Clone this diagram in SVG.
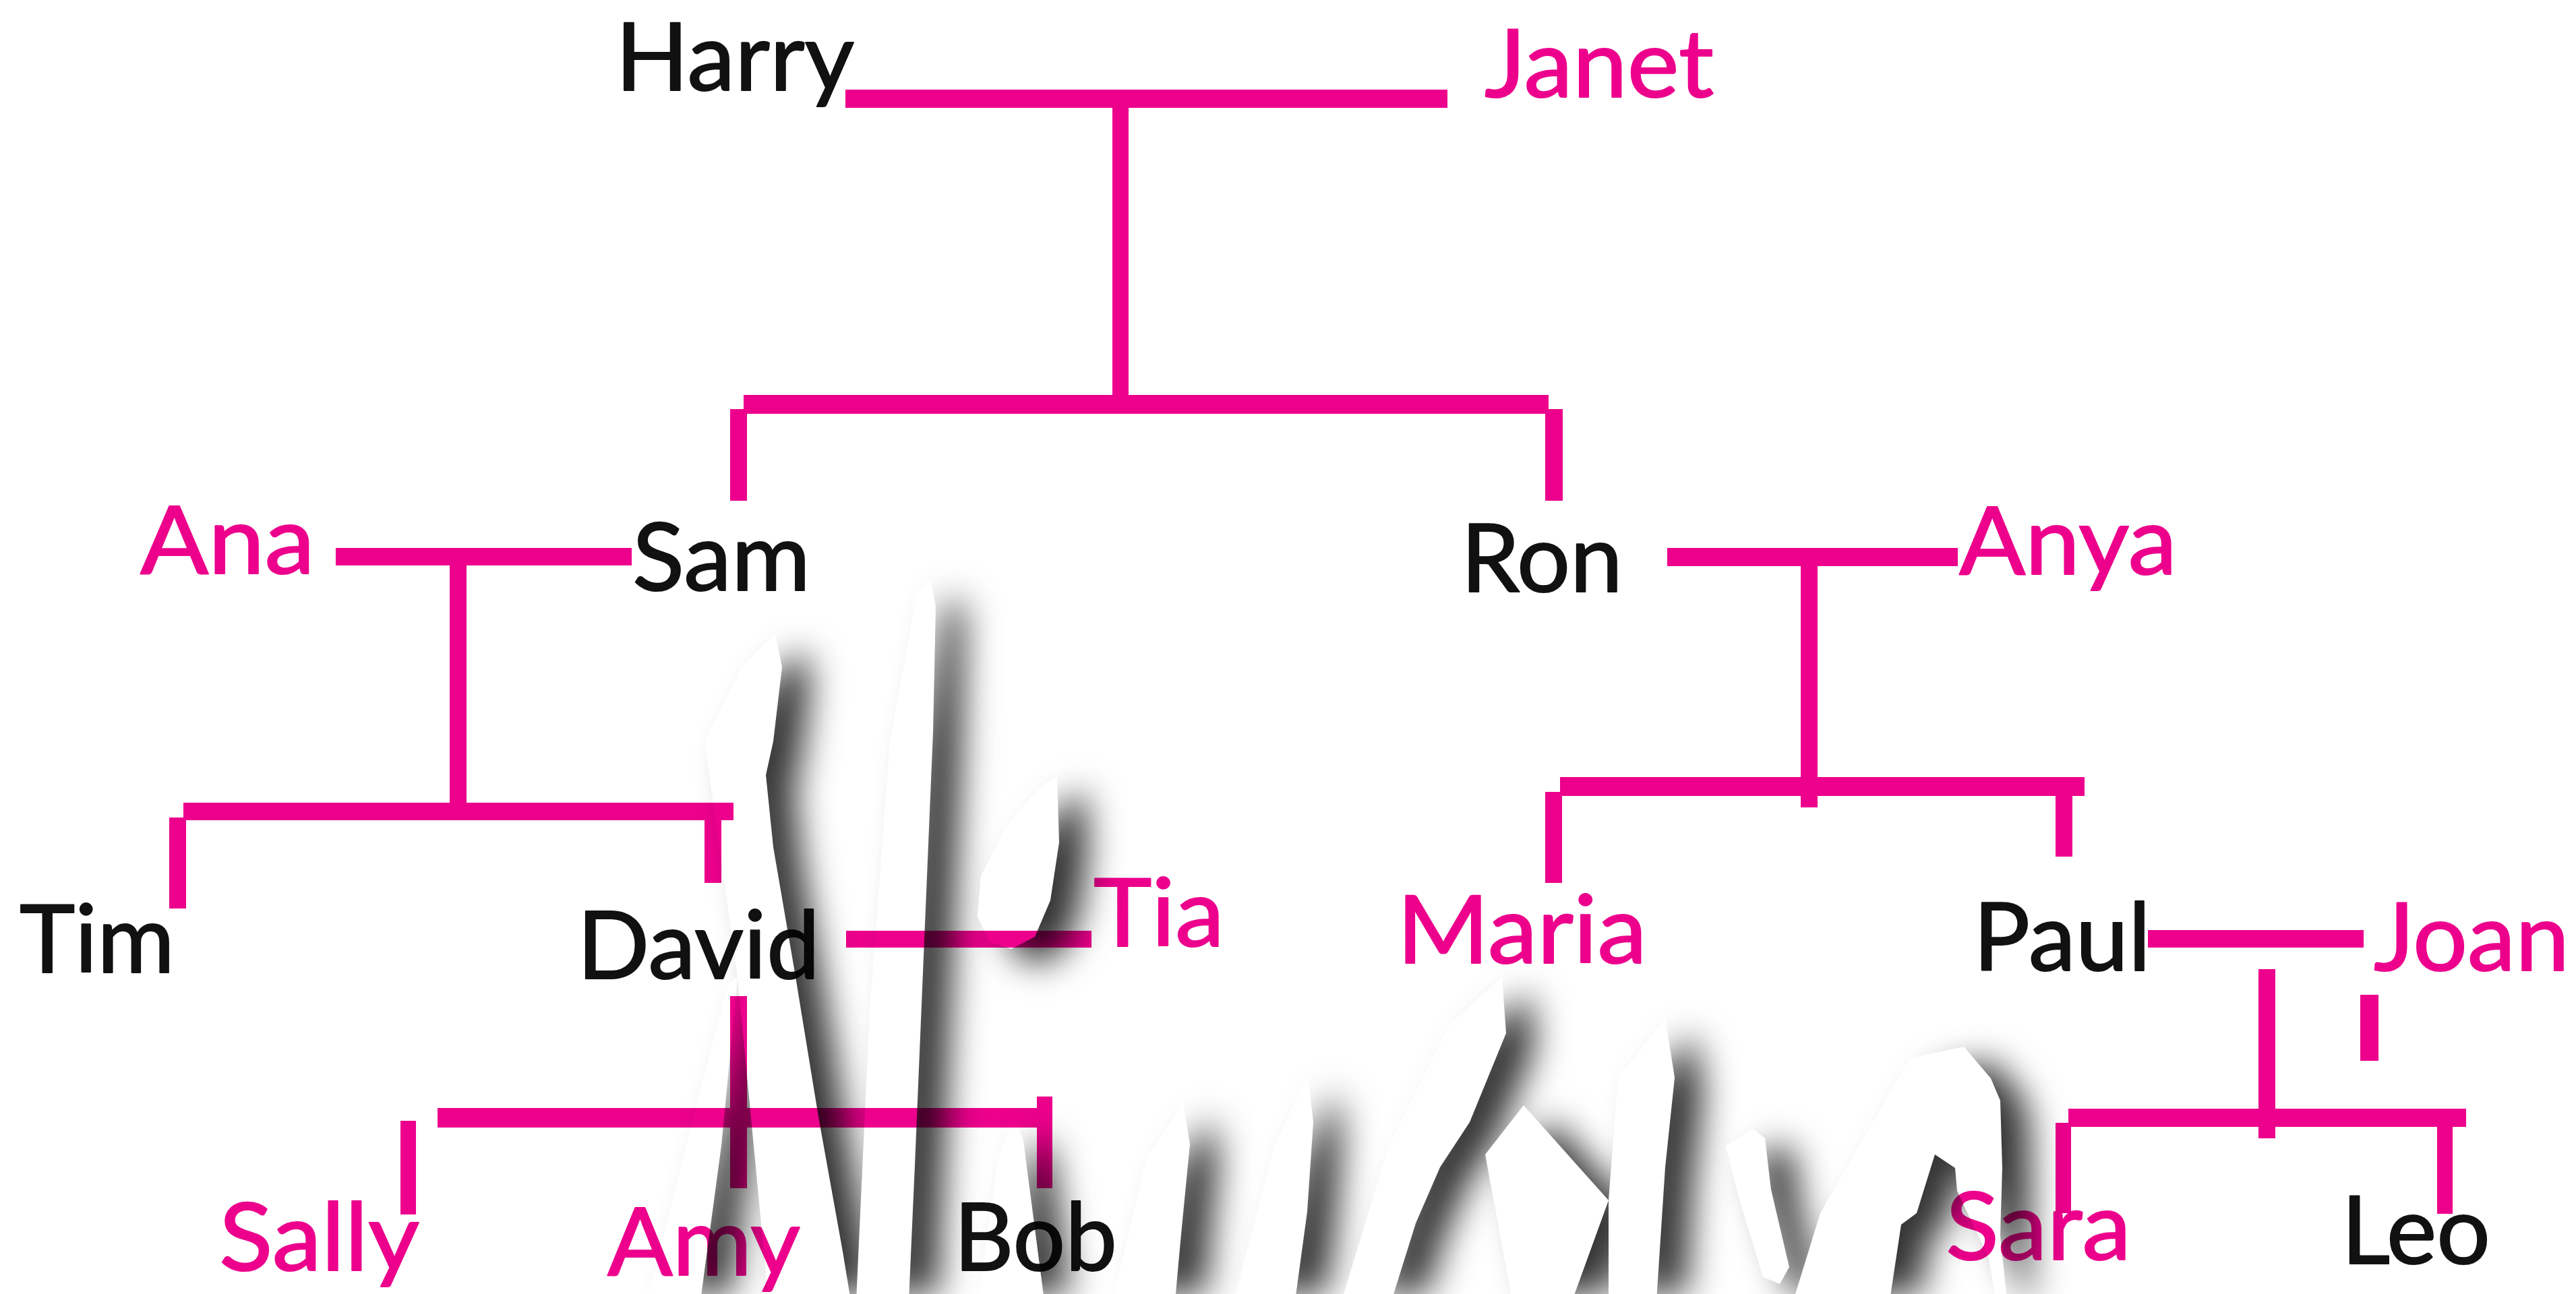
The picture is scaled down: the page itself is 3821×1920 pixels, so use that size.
<svg xmlns="http://www.w3.org/2000/svg" width="3821" height="1920" viewBox="0 0 3821 1920">
<defs>
<style>
.ln{fill:#EC008C}
.t{font-family:Lato,"Open Sans","Liberation Sans",sans-serif;font-size:140px;font-weight:400;stroke-width:2;stroke-linejoin:round}
.m{fill:#111111;stroke:#111111}
.f{fill:#EC008C;stroke:#EC008C}
.wm{fill:#ffffff;stroke:none}
</style>
<filter id="shadow" filterUnits="userSpaceOnUse" x="0" y="0" width="3821" height="1920">
<feOffset in="SourceAlpha" dx="42" dy="22" result="off"/>
<feGaussianBlur in="off" stdDeviation="26" result="blur"/>
<feComposite in="blur" in2="SourceAlpha" operator="out" result="sh"/>
<feColorMatrix in="sh" type="matrix" values="0 0 0 0 0  0 0 0 0 0  0 0 0 0 0  0 0 0 0.8 0"/>
</filter>
</defs>
<rect width="3821" height="1920" fill="#ffffff"/>
<g id="connectors">
<rect class="ln" x="1254" y="133" width="893" height="27"/>
<rect class="ln" x="1650" y="158" width="24" height="430"/>
<rect class="ln" x="1103" y="586" width="1194" height="28"/>
<rect class="ln" x="1083" y="607" width="25" height="136"/>
<rect class="ln" x="2292" y="607" width="26" height="136"/>
<rect class="ln" x="498" y="813" width="439" height="26"/>
<rect class="ln" x="667" y="837" width="25" height="356"/>
<rect class="ln" x="272" y="1191" width="816" height="26"/>
<rect class="ln" x="251" y="1213" width="25" height="135"/>
<rect class="ln" x="1045" y="1215" width="25" height="95"/>
<rect class="ln" x="2473" y="813" width="431" height="27"/>
<rect class="ln" x="2671" y="838" width="25" height="360"/>
<rect class="ln" x="2314" y="1153" width="778" height="28"/>
<rect class="ln" x="2292" y="1175" width="25" height="135"/>
<rect class="ln" x="3049" y="1179" width="25" height="92"/>
<rect class="ln" x="1255" y="1381" width="364" height="25"/>
<rect class="ln" x="1083" y="1478" width="25" height="285"/>
<rect class="ln" x="649" y="1644" width="889" height="29"/>
<rect class="ln" x="594" y="1663" width="23" height="139"/>
<rect class="ln" x="1538" y="1627" width="23" height="136"/>
<rect class="ln" x="3186" y="1380" width="320" height="26"/>
<rect class="ln" x="3350" y="1438" width="25" height="251"/>
<rect class="ln" x="3501" y="1476" width="27" height="98"/>
<rect class="ln" x="3068" y="1645" width="590" height="27"/>
<rect class="ln" x="3049" y="1666" width="23" height="134"/>
<rect class="ln" x="3615" y="1670" width="23" height="131"/>
</g>
<g id="harry"><text class="t m" x="913" y="134" textLength="354" lengthAdjust="spacingAndGlyphs">Harry</text></g>
<g id="janet"><text class="t f" x="2202" y="144" textLength="340" lengthAdjust="spacingAndGlyphs">Janet</text></g>
<g id="ana"><text class="t f" x="208" y="851" textLength="259" lengthAdjust="spacingAndGlyphs">Ana</text></g>
<g id="sam"><text class="t m" x="938" y="876" textLength="264" lengthAdjust="spacingAndGlyphs">Sam</text></g>
<g id="ron"><text class="t m" x="2167" y="878" textLength="240" lengthAdjust="spacingAndGlyphs">Ron</text></g>
<g id="anya"><text class="t f" x="2906" y="852" textLength="323" lengthAdjust="spacingAndGlyphs">Anya</text></g>
<g id="tim"><text class="t m" x="29" y="1443" textLength="230" lengthAdjust="spacingAndGlyphs">Tim</text></g>
<g id="david"><text class="t m" x="856" y="1452" textLength="360" lengthAdjust="spacingAndGlyphs">David</text></g>
<g id="tia"><text class="t f" x="1622" y="1404" textLength="194" lengthAdjust="spacingAndGlyphs">Tia</text></g>
<g id="maria"><text class="t f" x="2072" y="1429" textLength="371" lengthAdjust="spacingAndGlyphs">Maria</text></g>
<g id="paul"><text class="t m" x="2927" y="1440" textLength="263" lengthAdjust="spacingAndGlyphs">Paul</text></g>
<g id="joan"><text class="t f" x="3521" y="1440" textLength="290" lengthAdjust="spacingAndGlyphs">Joan</text></g>
<g id="sally"><text class="t f" x="325" y="1885" textLength="297" lengthAdjust="spacingAndGlyphs">Sally</text></g>
<g id="amy"><text class="t f" x="901" y="1892" textLength="286" lengthAdjust="spacingAndGlyphs">Amy</text></g>
<g id="bob"><text class="t m" x="1415" y="1885" textLength="242" lengthAdjust="spacingAndGlyphs">Bob</text></g>
<g id="sara"><text class="t f" x="2886" y="1869" textLength="275" lengthAdjust="spacingAndGlyphs">Sara</text></g>
<g id="leo"><text class="t m" x="3473" y="1875" textLength="221" lengthAdjust="spacingAndGlyphs">Leo</text></g>
<g id="overlay" filter="url(#shadow)">
<polygon class="wm" points="1150,940 1160,990 1147,1100 1136,1150 1147,1257 1179,1443 1214,1657 1250,1857 1262,1930 1140,1930 1094,1450 1045,1100 1100,990"/>
<polygon class="wm" points="1094,1450 1070,1700 1039,1930 960,1930 1030,1650 1080,1460"/>
<polygon class="wm" points="1380,860 1388,900 1384,1086 1375,1300 1366,1514 1357,1729 1348,1930 1270,1930 1290,1500 1320,1100 1360,880"/>
<polygon class="wm" points="1568,1150 1571,1250 1558,1336 1535,1390 1500,1408 1468,1398 1450,1360 1455,1300 1490,1230 1540,1170"/>
<polygon class="wm" points="1505,1660 1518,1693 1549,1930 1450,1930 1480,1720"/>
<polygon class="wm" points="1755,1635 1765,1698 1752,1831 1743,1930 1650,1930 1700,1720"/>
<polygon class="wm" points="1940,1595 1948,1665 1939,1798 1921,1930 1830,1930 1890,1700"/>
<polygon class="wm" points="2228,1450 2234,1533 2180,1665 2136,1732 2100,1815 2064,1930 1990,1930 2060,1700 2150,1520"/>
<polygon class="wm" points="2203,1713 2260,1640 2386,1781 2332,1930 2243,1930"/>
<polygon class="wm" points="2470,1510 2484,1599 2470,1732 2457,1930 2386,1930 2386,1781 2400,1600"/>
<polygon class="wm" points="2600,1675 2618,1689 2627,1765 2654,1880 2640,1905 2615,1895 2580,1780 2560,1700"/>
<polygon class="wm" points="2913,1553 2953,1600 2967,1633 2970,1733 2967,1833 2977,1930 2960,1930 2950,1867 2903,1767 2900,1733 2870,1713 2843,1800 2820,1817 2803,1930 2660,1930 2700,1800 2833,1570"/>
</g>
</svg>
